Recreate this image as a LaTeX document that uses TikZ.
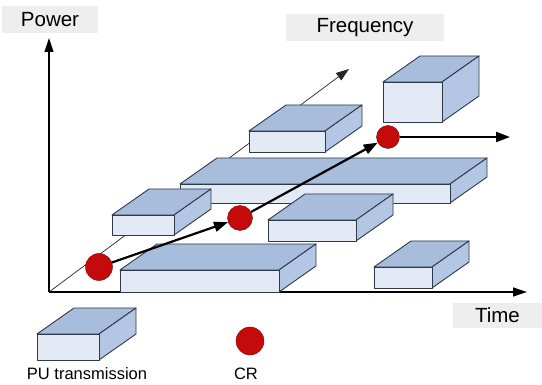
\documentclass[tikz,border=0pt]{standalone}
\usepackage{fontspec}
\setsansfont{Liberation Sans}
\usetikzlibrary{arrows.meta}
\definecolor{pufront}{HTML}{E3EAF6}
\definecolor{putop}{HTML}{A8BCDC}
\definecolor{puside}{HTML}{B3C6E3}
\definecolor{puedge}{HTML}{2E3A4A}
\definecolor{crred}{HTML}{C40A0A}
\definecolor{labelgray}{HTML}{EEEEEE}
\tikzset{
  axislabel/.style={fill=labelgray, inner sep=0pt, font=\sffamily\fontsize{20.5}{22}\selectfont},
  keylabel/.style={font=\sffamily\fontsize{16.5}{18}\selectfont},
  crdot/.style={circle, fill=crred, draw=crred!60!black, thin, inner sep=0pt},
  hop/.style={line width=2.2pt, -{Triangle[length=14pt,width=10pt]}},
  axis/.style={line width=1.2pt, -{Triangle[length=14pt,width=9pt]}},
  puedges/.style={draw=puedge, line width=0.9pt, line join=round}
}
\begin{document}
\begin{tikzpicture}[x=1pt, y=-1pt]
    \useasboundingbox (0,0) rectangle (542,385);

    % Axes
    \coordinate (origin) at (49,292);
    \coordinate (powerend) at (49,38);
    \coordinate (timeend) at (527,292);
    \coordinate (freqend) at (349,69);
    \draw [axis] (origin) -- (powerend);
    \draw [axis] (origin) -- (timeend);
    \draw [line width=0.7pt, black!85, -{Triangle[length=13pt,width=9pt]}] (origin) -- (freqend);

    \node [axislabel, minimum width=96pt, minimum height=27pt] (power) at (50,19.5) {Power};
    \node [axislabel, minimum width=158pt, minimum height=27pt] (freq) at (365,27.5) {Frequency};
    \node [axislabel, minimum width=89pt, minimum height=25pt] (time) at (497.5,315.5) {Time};

    % PU transmissions
    \foreach \xa/\ya/\xb/\yb in {383/82/442/122, 249/131/325/152, 180/184/450/203,
        112/215/174/235, 268/220/356/241, 374/267/432/288, 120/270/279/292,
        37/334/99/360} {
      \filldraw [puedges, fill=putop] (\xa,\ya) -- ++(37,-26) -- ({\xb+37},{\ya-26})
            -- (\xb,\ya) -- cycle;
      \filldraw [puedges, fill=puside] (\xb,\ya) -- ++(37,-26) -- ({\xb+37},{\yb-26})
            -- (\xb,\yb) -- cycle;
      \filldraw [puedges, fill=pufront] (\xa,\ya) rectangle (\xb,\yb);
    }

    % CR hops
    \node [crdot, minimum size=27pt] (cr1) at (99,267) {};
    \node [crdot, minimum size=25pt] (cr2) at (240,218) {};
    \node [crdot, minimum size=23pt] (cr3) at (388,137) {};
    \coordinate (crend) at (510,137);
    \draw [hop] (cr1) -- (cr2);
    \draw [hop] (cr2) -- (cr3);
    \draw [hop] (cr3) -- (crend);

    % Legend
    \node [crdot, minimum size=28pt] (crkey) at (250,341) {};
    \node [keylabel] (pukeytext) at (87,374) {PU transmission};
    \node [keylabel] (crkeytext) at (246,374) {CR};
\end{tikzpicture}
\end{document}
